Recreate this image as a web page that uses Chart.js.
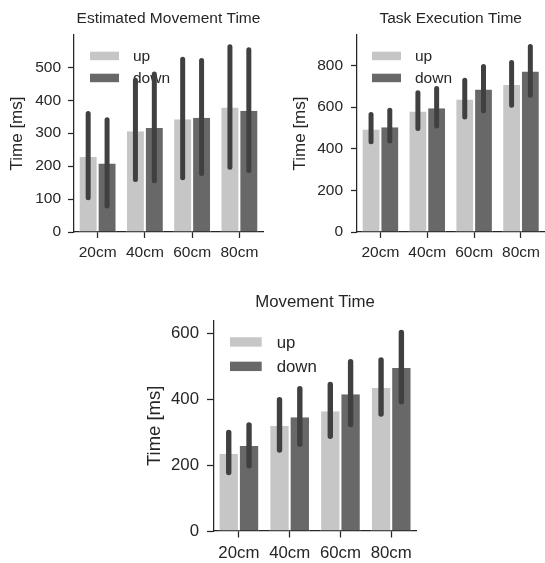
<!DOCTYPE html>
<html>
<head>
<meta charset="utf-8">
<title>Movement times</title>
<script src="https://cdn.jsdelivr.net/npm/chart.js@4.4.1/dist/chart.umd.min.js"></script>
<style>
    html, body { margin: 0; padding: 0; background: #fff; }
    body { width: 545px; height: 563px; position: relative; overflow: hidden; }
    canvas { position: absolute; }
</style>
</head>
<body>
<!-- each panel: bars underneath, error bars on a transparent canvas on top with the same layout -->
<canvas id="estimatedBars" width="272" height="280" style="left:0;top:0"></canvas>
<canvas id="estimatedErr" width="272" height="280" style="left:0;top:0"></canvas>
<canvas id="taskBars" width="273" height="280" style="left:272px;top:0"></canvas>
<canvas id="taskErr" width="273" height="280" style="left:272px;top:0"></canvas>
<canvas id="movementBars" width="290" height="283" style="left:140px;top:280px"></canvas>
<canvas id="movementErr" width="290" height="283" style="left:140px;top:280px"></canvas>
<script>
"use strict";

// --- Data ---
const categories = ['20cm', '40cm', '60cm', '80cm'];

const estimatedUp = [228, 306, 342, 378];
const estimatedDown = [208, 316, 347, 368];
const estimatedUpCI = [[96, 367], [152, 468], [157, 532], [189, 570]];
const estimatedDownCI = [[71, 348], [148, 487], [170, 528], [179, 561]];
const estimatedTicks = [0, 100, 200, 300, 400, 500];

const taskUp = [493, 579, 637, 707];
const taskDown = [504, 595, 685, 771];
const taskUpCI = [[422, 577], [486, 682], [541, 741], [597, 827]];
const taskDownCI = [[426, 597], [498, 702], [571, 808], [645, 904]];
const taskTicks = [0, 200, 400, 600, 800];

const movementUp = [235, 320, 364, 436];
const movementDown = [259, 346, 416, 496];
const movementUpCI = [[170, 308], [238, 408], [280, 454], [348, 529]];
const movementDownCI = [[190, 331], [256, 441], [316, 523], [385, 612]];
const movementTicks = [0, 200, 400, 600];

// --- Styling ---
const FONT_FAMILY = '"Liberation Sans", Arial, sans-serif';
const TEXT_COLOR = '#262626';
const AXIS_COLOR = '#262626';
const UP_COLOR = '#c6c6c6';
const DOWN_COLOR = '#686868';
const ERR_COLOR = '#404040';
const NONE = 'rgba(0,0,0,0)';

// Legend drawn inside the plot area (bars layer only)
const barLegendPlugin = {
    id: 'barLegend',
    afterDatasetsDraw(chart, args, opts) {
        if (!opts.show) return;
        const { ctx, chartArea } = chart;
        ctx.save();
        ctx.font = `${opts.fontSize}px ${FONT_FAMILY}`;
        ctx.textBaseline = 'middle';
        ctx.textAlign = 'left';
        chart.data.datasets.forEach((ds, i) => {
            const x = chartArea.left + opts.left;
            const y = chartArea.top + opts.top + i * opts.spacing;
            ctx.fillStyle = ds.backgroundColor;
            ctx.fillRect(x, y, opts.boxWidth, opts.boxHeight);
            ctx.fillStyle = TEXT_COLOR;
            ctx.fillText(ds.label, x + opts.textGap, y + opts.boxHeight / 2 + 1);
        });
        ctx.restore();
    }
};

function buildChart(canvasId, cfg, layer) {
    const ctx = document.getElementById(canvasId).getContext('2d');
    const isBars = layer === 'bars';
    const font = { family: FONT_FAMILY, size: cfg.fontSize, weight: 'normal' };
    const labelFont = { family: FONT_FAMILY, size: cfg.labelSize, weight: 'normal' };
    const ink = isBars ? TEXT_COLOR : NONE;
    const line = isBars ? AXIS_COLOR : NONE;
    const barSide = { left: 1, right: 1, top: 0, bottom: 0 };
    const errStyle = {
        backgroundColor: ERR_COLOR,
        maxBarThickness: cfg.errWidth,
        borderRadius: cfg.errWidth / 2,
        borderSkipped: false,
        borderWidth: 0
    };

    const datasets = isBars
        ? [
            { label: 'up', data: cfg.up, backgroundColor: UP_COLOR, borderColor: '#fff', borderWidth: barSide },
            { label: 'down', data: cfg.down, backgroundColor: DOWN_COLOR, borderColor: '#fff', borderWidth: barSide }
        ]
        : [
            { label: 'up CI', data: cfg.upCI, ...errStyle },
            { label: 'down CI', data: cfg.downCI, ...errStyle }
        ];

    return new Chart(ctx, {
        type: 'bar',
        data: { labels: categories, datasets },
        options: {
            responsive: false,
            animation: false,
            events: [],
            layout: { padding: { left: 0, right: cfg.padRight, top: 0, bottom: 0 } },
            datasets: { bar: { categoryPercentage: 0.8, barPercentage: 1 } },
            plugins: {
                legend: { display: false },
                tooltip: { enabled: false },
                title: {
                    display: true,
                    text: cfg.title,
                    fullSize: false,
                    color: ink,
                    font: font,
                    padding: { top: cfg.titlePadTop, bottom: cfg.titlePadBottom }
                },
                barLegend: { ...cfg.legend, show: isBars }
            },
            scales: {
                x: {
                    type: 'category',
                    offset: true,
                    grid: { drawOnChartArea: false, offset: false, tickLength: cfg.tickLength, tickColor: line, tickWidth: 1.25 },
                    border: { color: line, width: 1.25 },
                    ticks: { color: ink, font: font, padding: cfg.xTickPad, maxRotation: 0 },
                    afterFit: scale => { scale.height = cfg.xHeight; }
                },
                y: {
                    min: 0,
                    max: cfg.yMax,
                    grid: { drawOnChartArea: false, tickLength: cfg.tickLength, tickColor: line, tickWidth: 1.25 },
                    border: { color: line, width: 1.25 },
                    ticks: { color: ink, font: font, padding: cfg.yTickPad },
                    afterBuildTicks: scale => { scale.ticks = cfg.yTicks.map(v => ({ value: v })); },
                    title: { display: true, text: 'Time [ms]', color: ink, font: labelFont, padding: { top: cfg.yTitlePad, bottom: 0 } },
                    afterFit: scale => { scale.width = cfg.yWidth; }
                }
            }
        },
        plugins: [barLegendPlugin]
    });
}

function buildPanel(name, cfg) {
    buildChart(name + 'Bars', cfg, 'bars');
    buildChart(name + 'Err', cfg, 'errors');
}

const topLegend = { fontSize: 15.5, left: 16, top: 16.7, boxWidth: 29, boxHeight: 8.5, spacing: 22, textGap: 43 };

buildPanel('estimated', {
    title: 'Estimated Movement Time',
    up: estimatedUp, down: estimatedDown, upCI: estimatedUpCI, downCI: estimatedDownCI,
    yMax: 598, yTicks: estimatedTicks,
    fontSize: 15.5, labelSize: 17, tickLength: 6, errWidth: 5,
    yWidth: 74, padRight: 9, xHeight: 48,
    titlePadTop: 9.7, titlePadBottom: 6.7,
    yTitlePad: 7.1, yTickPad: 7, xTickPad: 5,
    legend: topLegend
});

buildPanel('task', {
    title: 'Task Execution Time',
    up: taskUp, down: taskDown, upCI: taskUpCI, downCI: taskDownCI,
    yMax: 947, yTicks: taskTicks,
    fontSize: 15.5, labelSize: 17, tickLength: 6, errWidth: 5,
    yWidth: 85, padRight: 0.5, xHeight: 48,
    titlePadTop: 9.7, titlePadBottom: 6.7,
    yTitlePad: 18.1, yTickPad: 8, xTickPad: 5,
    legend: { ...topLegend, left: 15 }
});

buildPanel('movement', {
    title: 'Movement Time',
    up: movementUp, down: movementDown, upCI: movementUpCI, downCI: movementDownCI,
    yMax: 640, yTicks: movementTicks,
    fontSize: 16.8, labelSize: 18.5, tickLength: 6.5, errWidth: 5.4,
    yWidth: 73.5, padRight: 13.4, xHeight: 32,
    titlePadTop: 12.6, titlePadBottom: 7.9,
    yTitlePad: 3.9, yTickPad: 8, xTickPad: 5.4,
    legend: { fontSize: 16.8, left: 16.5, top: 16.6, boxWidth: 31.7, boxHeight: 9.4, spacing: 24.4, textGap: 46.7 }
});
</script>
</body>
</html>
